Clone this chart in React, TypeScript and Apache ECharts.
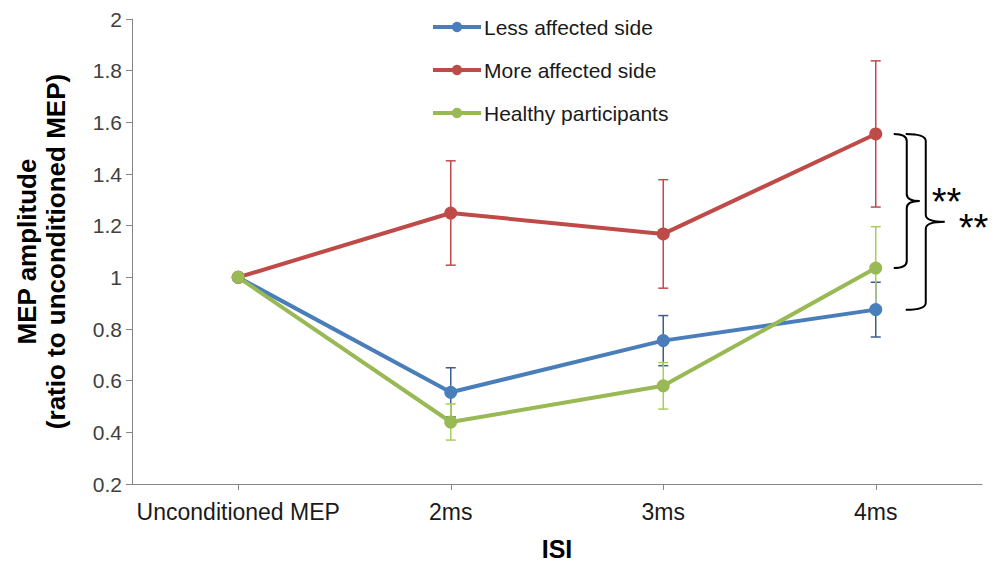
import React, { useEffect, useRef } from "react";
import * as echarts from "echarts";

const categories = ["Unconditioned MEP", "2ms", "3ms", "4ms"];

const seriesNames = ["Less affected side", "More affected side", "Healthy participants"];
const lessAffected = [1, 0.555, 0.755, 0.875];
const lessAffectedErr = [0, 0.095, 0.097, 0.106];
const moreAffected = [1, 1.249, 1.168, 1.555];
const moreAffectedErr = [0, 0.202, 0.21, 0.283];
const healthy = [1, 0.44, 0.58, 1.036];
const healthyErr = [0, 0.07, 0.09, 0.16];

const yMin = 0.2;
const yMax = 2;
const yStep = 0.2;

const xTitle = "ISI";
const yTitle = "MEP amplitude\n(ratio to unconditioned MEP)";

// significance brackets at the last ISI: [upper series index, lower series index, nesting level, label]
const bracketPairs: [number, number, number, string][] = [
  [1, 2, 0, "**"],
  [1, 0, 1, "**"],
];

const lineColors = ["#4A7EBB", "#BE4B48", "#98B954"];
const errColors = ["#3B5E8E", "#C4494A", "#A6CE5E"];

export default function App() {
  const ref = useRef<HTMLDivElement>(null);
  useEffect(() => {
    if (!ref.current) return;
    const chart = echarts.init(ref.current, undefined, { renderer: "svg" });
    const values = [lessAffected, moreAffected, healthy];
    const errs = [lessAffectedErr, moreAffectedErr, healthyErr];
    const font = "Liberation Sans, Arial, sans-serif";

    const errorSeries = values.map((vals, si) => ({
      type: "custom",
      name: seriesNames[si] + " error",
      z: 1,
      clip: false,
      silent: true,
      data: vals
        .map((v, i) => [i, v - errs[si][i], v + errs[si][i], errs[si][i]])
        .filter((d) => d[3] > 0),
      renderItem: (params: any, api: any) => {
        const x = api.value(0);
        const lo = api.coord([x, api.value(1)]);
        const hi = api.coord([x, api.value(2)]);
        const w = 5;
        const style = { stroke: errColors[si], lineWidth: 1.5 };
        return {
          type: "group",
          children: [
            { type: "line", shape: { x1: lo[0], y1: lo[1], x2: hi[0], y2: hi[1] }, style },
            { type: "line", shape: { x1: hi[0] - w, y1: hi[1], x2: hi[0] + w, y2: hi[1] }, style },
            { type: "line", shape: { x1: lo[0] - w, y1: lo[1], x2: lo[0] + w, y2: lo[1] }, style },
          ],
        };
      },
    }));

    const lineSeries = values.map((vals, si) => ({
      type: "line",
      name: seriesNames[si],
      data: vals,
      z: 2,
      symbol: "circle",
      symbolSize: 13,
      lineStyle: { width: 4, color: lineColors[si] },
      itemStyle: { color: lineColors[si] },
    }));

    const last = categories.length - 1;
    const bracketSeries = {
      type: "custom",
      name: "brackets",
      z: 3,
      clip: false,
      silent: true,
      data: bracketPairs.map((b) => [last, values[b[0]][last], values[b[1]][last], b[2]]),
      renderItem: (params: any, api: any) => {
        const x = api.value(0);
        const top = api.coord([x, api.value(1)]);
        const bot = api.coord([x, api.value(2)]);
        const level = api.value(3);
        const label = bracketPairs[params.dataIndex][3];
        const x0 = top[0] + (level === 0 ? 18 : 30);
        const xv = top[0] + (level === 0 ? 31 : 50);
        const xt = top[0] + (level === 0 ? 44 : 69);
        const yt = top[1];
        const yb = bot[1];
        const ym = (yt + yb) / 2;
        const r = 7;
        const d =
          `M${x0} ${yt} Q${xv} ${yt} ${xv} ${yt + r} L${xv} ${ym - r} ` +
          `Q${xv} ${ym} ${xt} ${ym} Q${xv} ${ym} ${xv} ${ym + r} ` +
          `L${xv} ${yb - r} Q${xv} ${yb} ${x0} ${yb}`;
        return {
          type: "group",
          children: [
            { type: "path", shape: { pathData: d }, style: { stroke: "#000", lineWidth: 2, fill: "none" } },
            {
              type: "text",
              style: {
                text: label,
                x: xt + (level === 0 ? 12 : 14),
                y: ym + (level === 0 ? 1 : 6),
                fill: "#000",
                font: `38px ${font}`,
                align: "left",
                verticalAlign: "middle",
              },
            },
          ],
        };
      },
    };

    chart.setOption({
      animation: false,
      backgroundColor: "#fff",
      grid: {
        left: 132,
        right: 16,
        top: 19,
        bottom: 81,
        containLabel: false,
        outerBoundsMode: "none",
      },
      legend: {
        data: seriesNames,
        orient: "vertical",
        left: 426,
        top: 11,
        itemWidth: 48,
        itemHeight: 13,
        itemGap: 21,
        lineStyle: { width: 4 },
        textStyle: { fontFamily: font, fontSize: 21, color: "#1a1a1a", lineHeight: 22, padding: [0, 0, 0, -2] },
      },
      xAxis: {
        type: "category",
        data: categories,
        boundaryGap: true,
        name: xTitle,
        nameLocation: "middle",
        nameGap: 52,
        nameTextStyle: { fontFamily: font, fontSize: 25, fontWeight: "bold", color: "#000" },
        axisLine: { show: true, lineStyle: { color: "#868686", width: 1 } },
        axisTick: { show: true, alignWithLabel: true, length: 6, lineStyle: { color: "#868686" } },
        axisLabel: { fontFamily: font, fontSize: 23, color: "#1a1a1a", margin: 16, interval: 0 },
        splitLine: { show: false },
      },
      yAxis: {
        type: "value",
        min: yMin,
        max: yMax,
        interval: yStep,
        name: yTitle,
        nameLocation: "middle",
        nameRotate: 90,
        nameGap: 62,
        nameTextStyle: { fontFamily: font, fontSize: 26, fontWeight: "bold", color: "#000", lineHeight: 29 },
        axisLine: { show: true, lineStyle: { color: "#868686", width: 1 } },
        axisTick: { show: true, length: 6, lineStyle: { color: "#868686" } },
        axisLabel: {
          fontFamily: font,
          fontSize: 21,
          color: "#404040",
          margin: 10,
          formatter: (v: number) => String(+v.toFixed(1)),
        },
        splitLine: { show: false },
      },
      series: [...errorSeries, ...lineSeries, bracketSeries],
    });
    return () => chart.dispose();
  }, []);
  return (
    <div
      ref={ref}
      style={{ position: "fixed", left: 0, top: 0, width: 998, height: 565, background: "#fff" }}
    />
  );
}
